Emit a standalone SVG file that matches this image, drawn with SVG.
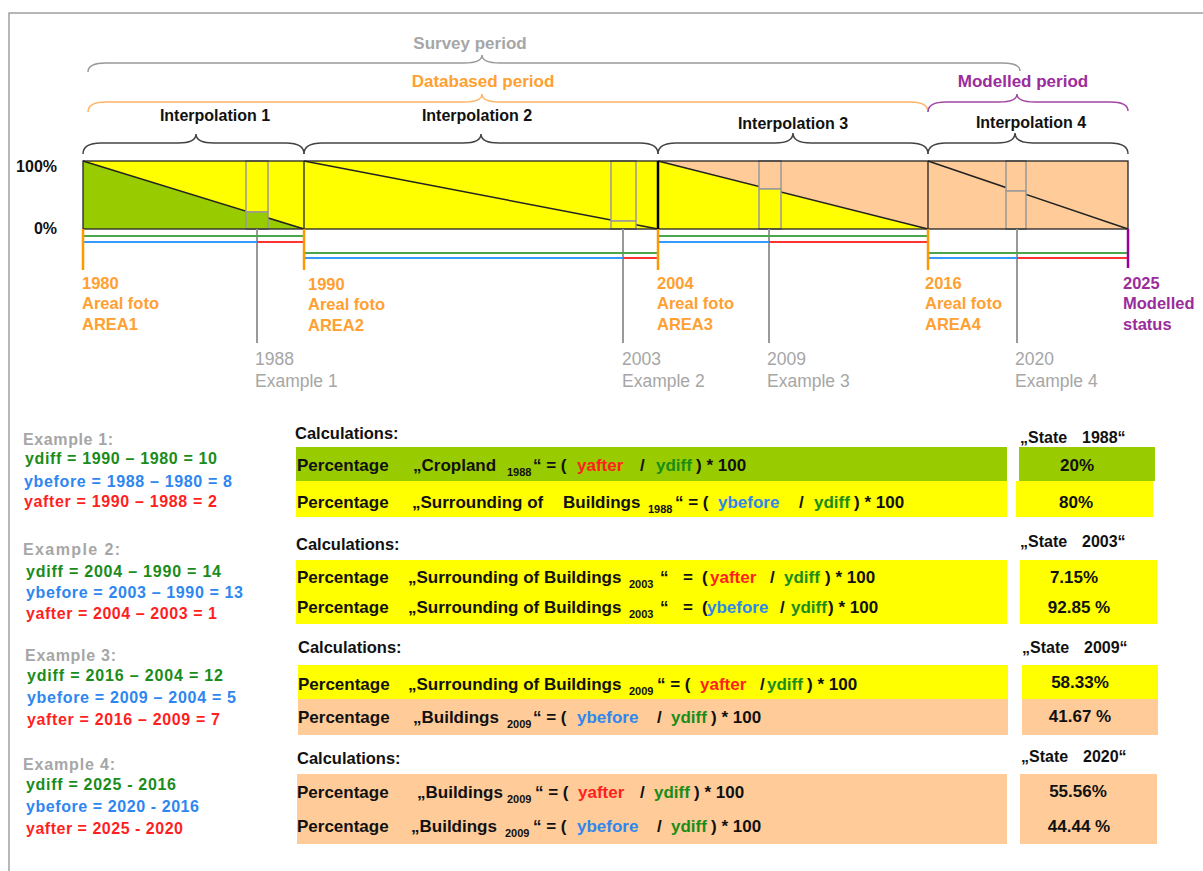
<svg xmlns="http://www.w3.org/2000/svg" width="1203" height="871" viewBox="0 0 1203 871">
<style>
.f{font-family:"Liberation Sans",Arial,sans-serif;font-weight:bold}
.n{font-family:"Liberation Sans",Arial,sans-serif;font-weight:normal}
.calc{font-size:17px;fill:#111}
.sub{font-size:11px}
.r{fill:#FF1F1F}.b{fill:#2E86F0}.g{fill:#1A8C1A}
.gr{fill:#A6A6A6}.or{fill:#FFA032}.pu{fill:#9B2C9B}
.brace{fill:none;stroke-width:1.5}
.ex{font-size:16px}
.res{font-size:17px;fill:#111;text-anchor:middle}
.frame{fill:none;stroke:#A0A0A0;stroke-width:1.5}
.box{stroke:none}
.mk{stroke:#999;stroke-width:1.5}
</style>
<rect width="1203" height="871" fill="#fff"/>
<path class="frame" d="M9,871 V13 H1203"/>

<g id="periods">
<text class="f gr" x="470" y="49" font-size="17" text-anchor="middle">Survey period</text>
<path class="brace" stroke="#999" d="M88,72 Q88,63 106,63 L464,63 Q482,63 482,55 Q482,63 500,63 L1002,63 Q1020,63 1020,71"/>
<text class="f or" x="483" y="87" font-size="17" text-anchor="middle">Databased period</text>
<path class="brace" stroke="#FFB366" d="M88,112 Q88,102 106,102 L464,102 Q482,102 482,94 Q482,102 500,102 L910,102 Q928,102 928,112"/>
<text class="f pu" x="1023" y="87" font-size="17" text-anchor="middle">Modelled period</text>
<path class="brace" stroke="#A347A3" d="M928,112 Q928,102 946,102 L999,102 Q1017,102 1017,94 Q1017,102 1035,102 L1110,102 Q1128,102 1128,111"/>
</g>

<g id="interpolations">
<text class="f" x="215" y="121" font-size="16" fill="#111" text-anchor="middle">Interpolation 1</text>
<text class="f" x="477" y="121" font-size="16" fill="#111" text-anchor="middle">Interpolation 2</text>
<text class="f" x="793" y="129" font-size="16" fill="#111" text-anchor="middle">Interpolation 3</text>
<text class="f" x="1031" y="128" font-size="16" fill="#111" text-anchor="middle">Interpolation 4</text>
<path class="brace" stroke="#444" d="M83,154 Q83,143 101,143 L178,143 Q196,143 196,134 Q196,143 214,143 L286,143 Q304,143 304,154"/>
<path class="brace" stroke="#444" d="M304,154 Q304,143 322,143 L463,143 Q481,143 481,134 Q481,143 499,143 L640,143 Q658,143 658,154"/>
<path class="brace" stroke="#444" d="M658,154 Q658,143 676,143 L775,143 Q793,143 793,133 Q793,143 811,143 L910,143 Q928,143 928,154"/>
<path class="brace" stroke="#444" d="M928,154 Q928,143 946,143 L997,143 Q1015,143 1015,133 Q1015,143 1033,143 L1110,143 Q1128,143 1128,154"/>
</g>

<g id="axis">
<text class="f" x="57" y="172" font-size="16" fill="#111" text-anchor="end">100%</text>
<text class="f" x="57" y="234" font-size="16" fill="#111" text-anchor="end">0%</text>
</g>

<g id="bar">
<rect x="83" y="161" width="221" height="68" fill="#FFFF00"/>
<polygon points="83,161 83,229 304,229" fill="#99CC00"/>
<rect x="304" y="161" width="354" height="68" fill="#FFFF00"/>
<rect x="658" y="161" width="270" height="68" fill="#FFCC99"/>
<polygon points="658,161 658,229 928,229" fill="#FFFF00"/>
<rect x="928" y="161" width="200" height="68" fill="#FFCC99"/>
<g stroke="#222" stroke-width="1.5">
<line x1="83" y1="161" x2="304" y2="229"/>
<line x1="304" y1="161" x2="658" y2="229"/>
<line x1="658" y1="161" x2="928" y2="229"/>
<line x1="928" y1="161" x2="1128" y2="229"/>
</g>
<g id="ex1col"><rect x="246" y="161" width="22" height="51" fill="#FFFF00" class="mk"/><rect x="246" y="212" width="22" height="17" fill="#99CC00" class="mk"/></g>
<g id="ex2col"><rect x="611" y="161" width="25" height="60" fill="#FFFF00" class="mk"/><rect x="611" y="221" width="25" height="8" fill="#FFFF00" class="mk"/></g>
<g id="ex3col"><rect x="759" y="161" width="22" height="28" fill="#FFCC99" class="mk"/><rect x="759" y="189" width="22" height="40" fill="#FFFF00" class="mk"/></g>
<g id="ex4col"><rect x="1006" y="161" width="20" height="30" fill="#FFCC99" class="mk"/><rect x="1006" y="191" width="20" height="38" fill="#FFCC99" class="mk"/></g>
<rect x="83" y="161" width="1045" height="68" fill="none" stroke="#222" stroke-width="1.3"/>
<line x1="304" y1="161" x2="304" y2="229" stroke="#222" stroke-width="1.3"/>
<line x1="928" y1="161" x2="928" y2="229" stroke="#222" stroke-width="1.3"/>
<line x1="658" y1="161" x2="658" y2="229" stroke="#000" stroke-width="2.5"/>
</g>

<g id="connectors">
<g stroke="#999" stroke-width="2">
<line x1="257" y1="229" x2="257" y2="343"/>
<line x1="623" y1="229" x2="623" y2="343"/>
<line x1="769" y1="229" x2="769" y2="343"/>
<line x1="1017" y1="229" x2="1017" y2="343"/>
</g>
<g stroke-width="2">
<line x1="83" y1="236" x2="304" y2="236" stroke="#4CA64C"/>
<line x1="83" y1="242" x2="257" y2="242" stroke="#3399FF"/>
<line x1="257" y1="242" x2="304" y2="242" stroke="#FF3333"/>
<line x1="304" y1="253" x2="658" y2="253" stroke="#4CA64C"/>
<line x1="304" y1="258" x2="623" y2="258" stroke="#3399FF"/>
<line x1="623" y1="258" x2="658" y2="258" stroke="#FF3333"/>
<line x1="658" y1="236" x2="928" y2="236" stroke="#4CA64C"/>
<line x1="658" y1="242" x2="769" y2="242" stroke="#3399FF"/>
<line x1="769" y1="242" x2="928" y2="242" stroke="#FF3333"/>
<line x1="928" y1="253" x2="1128" y2="253" stroke="#4CA64C"/>
<line x1="928" y1="258" x2="1017" y2="258" stroke="#3399FF"/>
<line x1="1017" y1="258" x2="1128" y2="258" stroke="#FF3333"/>
</g>
<g stroke="#FF9900" stroke-width="2.5">
<line x1="83" y1="229" x2="83" y2="270"/>
<line x1="304" y1="229" x2="304" y2="270"/>
<line x1="658" y1="229" x2="658" y2="270"/>
<line x1="928" y1="229" x2="928" y2="270"/>
</g>
<line x1="1128" y1="229" x2="1128" y2="268" stroke="#990099" stroke-width="2.5"/>
</g>

<g id="dates" class="f or" font-size="16.5">
<text x="82" y="289">1980</text><text x="82" y="309">Areal foto</text><text x="82" y="330">AREA1</text>
<text x="308" y="290">1990</text><text x="308" y="310">Areal foto</text><text x="308" y="331">AREA2</text>
<text x="657" y="289">2004</text><text x="657" y="309">Areal foto</text><text x="657" y="330">AREA3</text>
<text x="925" y="289">2016</text><text x="925" y="309">Areal foto</text><text x="925" y="330">AREA4</text>
</g>
<g id="modelled-status" class="f pu" font-size="16.5">
<text x="1123" y="289">2025</text><text x="1123" y="309">Modelled</text><text x="1123" y="330">status</text>
</g>
<g id="example-dates" class="n gr" font-size="17.5">
<text x="255" y="365">1988</text><text x="255" y="387">Example 1</text>
<text x="622" y="365">2003</text><text x="622" y="387">Example 2</text>
<text x="767" y="365">2009</text><text x="767" y="387">Example 3</text>
<text x="1015" y="365">2020</text><text x="1015" y="387">Example 4</text>
</g>

<g id="examples" class="f ex">
<text class="gr" x="23" y="445" textLength="90">Example 1:</text>
<text class="g" x="25" y="464" textLength="192">ydiff = 1990 – 1980 = 10</text>
<text class="b" x="24" y="487" textLength="208">ybefore = 1988 – 1980 = 8</text>
<text class="r" x="24" y="507" textLength="193">yafter = 1990 – 1988 = 2</text>
<text class="gr" x="23" y="555" textLength="97">Example 2:</text>
<text class="g" x="26" y="577" textLength="195">ydiff = 2004 – 1990 = 14</text>
<text class="b" x="26" y="598" textLength="217">ybefore = 2003 – 1990 = 13</text>
<text class="r" x="26" y="619" textLength="191">yafter = 2004 – 2003 = 1</text>
<text class="gr" x="25" y="661" textLength="91">Example 3:</text>
<text class="g" x="27" y="681" textLength="196">ydiff = 2016 – 2004 = 12</text>
<text class="b" x="27" y="703" textLength="209">ybefore = 2009 – 2004 = 5</text>
<text class="r" x="27" y="725" textLength="193">yafter = 2016 – 2009 = 7</text>
<text class="gr" x="23" y="770" textLength="92">Example 4:</text>
<text class="g" x="26" y="790" textLength="150">ydiff = 2025 - 2016</text>
<text class="b" x="26" y="812" textLength="173">ybefore = 2020 - 2016</text>
<text class="r" x="26" y="834" textLength="157">yafter = 2025 - 2020</text>
</g>

<g id="calc1988">
<text class="f" x="295" y="439" font-size="16.5" fill="#111">Calculations:</text>
<text class="f" x="1020" y="443" font-size="16" fill="#111">„State<tspan x="1082">1988“</tspan></text>
<rect class="box" x="296" y="447" width="711" height="34" fill="#99CC00"/>
<rect class="box" x="1019" y="447" width="136" height="34" fill="#99CC00"/>
<rect class="box" x="296" y="481" width="711" height="36" fill="#FFFF00"/>
<rect class="box" x="1016" y="481" width="137" height="36" fill="#FFFF00"/>
<text class="f calc" y="471"><tspan x="297">Percentage</tspan><tspan x="413">„Cropland</tspan><tspan class="sub" x="507" y="476">1988</tspan><tspan x="533" y="471">“ = (</tspan><tspan class="r" x="577">yafter</tspan><tspan x="640">/</tspan><tspan class="g" x="656">ydiff</tspan><tspan x="696">) * 100</tspan></text>
<text class="f calc" y="508"><tspan x="297">Percentage</tspan><tspan x="412">„Surrounding of</tspan><tspan x="563">Buildings</tspan><tspan class="sub" x="648" y="513">1988</tspan><tspan x="675" y="508">“ = (</tspan><tspan class="b" x="718">ybefore</tspan><tspan x="799">/</tspan><tspan class="g" x="814">ydiff</tspan><tspan x="854">) * 100</tspan></text>
<text class="f res" x="1077" y="471">20%</text>
<text class="f res" x="1076" y="508">80%</text>
</g>

<g id="calc2003">
<text class="f" x="296" y="550" font-size="16.5" fill="#111">Calculations:</text>
<text class="f" x="1020" y="547" font-size="16" fill="#111">„State<tspan x="1082">2003“</tspan></text>
<rect class="box" x="296" y="560" width="711" height="64" fill="#FFFF00"/>
<rect class="box" x="1020" y="560" width="137" height="64" fill="#FFFF00"/>
<text class="f calc" y="583"><tspan x="297">Percentage</tspan><tspan x="408">„Surrounding of Buildings</tspan><tspan class="sub" x="629" y="588">2003</tspan><tspan x="660" y="583">“</tspan><tspan x="683">=</tspan><tspan x="702">(</tspan><tspan class="r" x="710">yafter</tspan><tspan x="770">/</tspan><tspan class="g" x="784">ydiff</tspan><tspan x="825">) * 100</tspan></text>
<text class="f calc" y="613"><tspan x="297">Percentage</tspan><tspan x="408">„Surrounding of Buildings</tspan><tspan class="sub" x="629" y="618">2003</tspan><tspan x="660" y="613">“</tspan><tspan x="683">=</tspan><tspan x="702">(</tspan><tspan class="b" x="707">ybefore</tspan><tspan x="780">/</tspan><tspan class="g" x="791">ydiff</tspan><tspan x="828">) * 100</tspan></text>
<text class="f res" x="1074" y="583">7.15%</text>
<text class="f res" x="1079" y="613">92.85 %</text>
</g>

<g id="calc2009">
<text class="f" x="298" y="653" font-size="16.5" fill="#111">Calculations:</text>
<text class="f" x="1022" y="653" font-size="16" fill="#111">„State<tspan x="1084">2009“</tspan></text>
<rect class="box" x="298" y="665" width="710" height="34" fill="#FFFF00"/>
<rect class="box" x="1022" y="665" width="136" height="34" fill="#FFFF00"/>
<rect class="box" x="298" y="699" width="710" height="36" fill="#FFCC99"/>
<rect class="box" x="1022" y="699" width="136" height="36" fill="#FFCC99"/>
<text class="f calc" y="690"><tspan x="298">Percentage</tspan><tspan x="408">„Surrounding of Buildings</tspan><tspan class="sub" x="629" y="695">2009</tspan><tspan x="657" y="690">“ = (</tspan><tspan class="r" x="700">yafter</tspan><tspan x="760">/</tspan><tspan class="g" x="767">ydiff</tspan><tspan x="807">) * 100</tspan></text>
<text class="f calc" y="723"><tspan x="298">Percentage</tspan><tspan x="413">„Buildings</tspan><tspan class="sub" x="507" y="728">2009</tspan><tspan x="533" y="723">“ = (</tspan><tspan class="b" x="577">ybefore</tspan><tspan x="657">/</tspan><tspan class="g" x="671">ydiff</tspan><tspan x="711">) * 100</tspan></text>
<text class="f res" x="1080" y="688">58.33%</text>
<text class="f res" x="1080" y="722">41.67 %</text>
</g>

<g id="calc2020">
<text class="f" x="297" y="764" font-size="16.5" fill="#111">Calculations:</text>
<text class="f" x="1021" y="762" font-size="16" fill="#111">„State<tspan x="1083">2020“</tspan></text>
<rect class="box" x="297" y="774" width="710" height="70" fill="#FFCC99"/>
<rect class="box" x="1020" y="774" width="137" height="70" fill="#FFCC99"/>
<text class="f calc" y="798"><tspan x="297">Percentage</tspan><tspan x="417">„Buildings</tspan><tspan class="sub" x="507" y="803">2009</tspan><tspan x="535" y="798">“ = (</tspan><tspan class="r" x="578">yafter</tspan><tspan x="640">/</tspan><tspan class="g" x="654">ydiff</tspan><tspan x="694">) * 100</tspan></text>
<text class="f calc" y="832"><tspan x="297">Percentage</tspan><tspan x="411">„Buildings</tspan><tspan class="sub" x="505" y="837">2009</tspan><tspan x="533" y="832">“ = (</tspan><tspan class="b" x="577">ybefore</tspan><tspan x="657">/</tspan><tspan class="g" x="671">ydiff</tspan><tspan x="711">) * 100</tspan></text>
<text class="f res" x="1078" y="797">55.56%</text>
<text class="f res" x="1079" y="832">44.44 %</text>
</g>
</svg>
